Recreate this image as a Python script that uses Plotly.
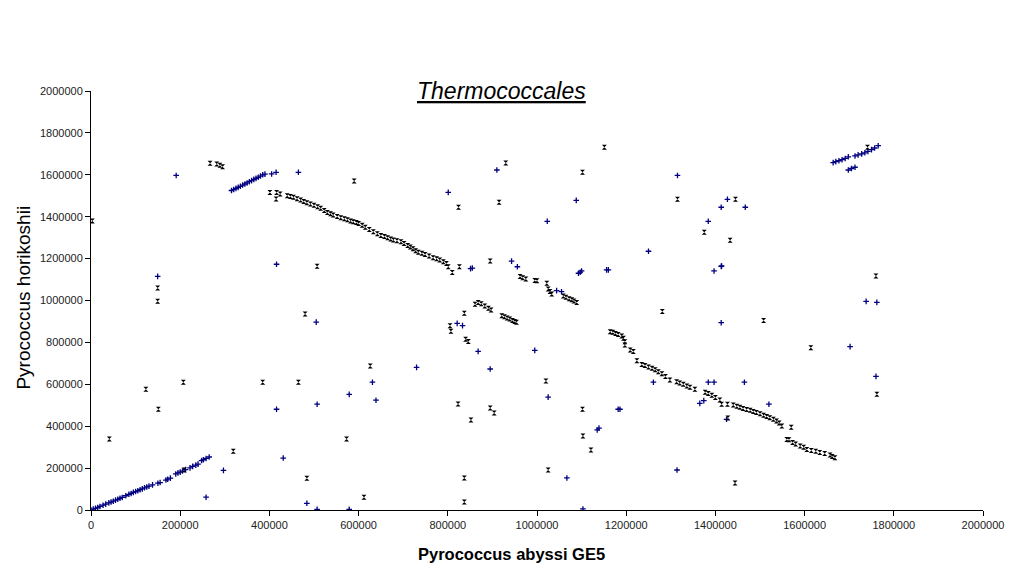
import plotly.graph_objects as go

# positions in kb (x: P. abyssi GE5, y: P. horikoshii)
blue_x = [0, 5, 10, 15, 20, 27, 33, 40, 45, 50, 55, 60, 65, 70, 78, 85, 90, 95, 100, 105,
          110, 115, 120, 125, 130, 138, 150, 155, 168, 172, 178, 190, 195, 200, 205, 212,
          222, 228, 235, 240, 248, 252, 258, 265,
          315, 320, 325, 330, 335, 340, 345, 350, 355, 360, 365, 370, 375, 380, 385, 390,
          1664, 1670, 1677, 1684, 1691, 1698, 1713, 1720, 1728, 1735, 1742, 1750, 1757, 1765,
          1698, 1705, 1713, 1093, 1097, 1100, 1044, 1055, 851, 855, 943, 956,
          191, 149.5, 405, 415, 416, 465, 801, 1023, 1088, 1315, 1427, 1413, 1467, 1384,
          1250, 1413, 1397, 1414, 1156, 1160, 821, 833, 868, 995, 730, 895, 1365, 1374,
          1384, 1397, 1465, 1520, 1261, 1182, 1186, 1425, 1413, 1738, 1762, 1702, 1760,
          297, 258, 416, 431, 507, 484, 507, 579, 579, 631, 639, 505, 1025, 1067, 1103,
          1135, 1139, 1314, 910]
blue_y = [0, 4, 8, 12, 17, 23, 28, 34, 38, 42, 47, 51, 56, 60, 68, 75, 79, 84, 88, 92,
          97, 101, 106, 110, 114, 120, 128, 131, 143, 147, 152, 172, 177, 181, 186, 193,
          201, 208, 214, 219, 236, 240, 246, 253,
          1525, 1530, 1535, 1540, 1545, 1551, 1556, 1561, 1567, 1572, 1578, 1583, 1588, 1594, 1600, 1603,
          1658, 1663, 1667, 1672, 1678, 1686, 1690, 1695, 1700, 1705, 1712, 1720, 1728, 1739,
          1623, 1630, 1636, 1130, 1135, 1141, 1047, 1042, 1152, 1155, 1188, 1161,
          1597, 1115, 1604, 1612, 1173, 1612, 1516, 1378, 1478, 1597, 1483, 1445, 1445, 1378,
          1235, 1163, 1141, 1165, 1146, 1146, 891, 880, 757, 762, 681, 673, 509, 522,
          610, 610, 610, 505, 610, 481, 481, 433, 894, 996, 991, 780, 638,
          189, 61, 481, 248, 505, 32, 3, 552, 3, 610, 524, 897, 539, 153, 5,
          382, 391, 191, 1623]

black_x = [440, 447, 454, 462, 470, 477, 484, 492, 500, 508, 515, 523, 530, 537, 543, 552,
           560, 568, 575, 582, 588, 595, 600, 608, 615, 624, 633, 642, 650, 658, 665, 672,
           678, 686, 695, 702, 710, 716, 722, 728, 734, 742, 749, 758, 767, 775, 782, 790,
           797, 801, 810, 826,
           861, 868, 875, 883, 891, 897, 921, 927, 933, 939, 945, 950, 954,
           962, 968, 975, 995, 1000, 1022, 1025, 1029, 1033, 1059, 1065, 1072, 1078, 1083, 1089,
           1164, 1170, 1176, 1182, 1190, 1194, 1197, 1197, 1209, 1216, 1224, 1235, 1242, 1250,
           1258, 1265, 1272, 1280, 1288, 1298, 1313, 1320, 1328, 1336, 1343, 1354, 1377, 1384,
           1392, 1400, 1410, 1414, 1427, 1440, 1448, 1455, 1462, 1470, 1478, 1485, 1492, 1500,
           1508, 1515, 1522, 1530, 1537, 1543, 1549, 1570,
           1560, 1565, 1573, 1580, 1590, 1598, 1605, 1615, 1625, 1634, 1645, 1657, 1662, 1668,
           3, 267, 282, 289, 295, 401, 416, 424, 415, 590, 507, 824, 915, 1102, 1151,
           1315, 1445, 1375, 1433, 1281, 1508, 1614, 1760, 1762, 1741, 895, 805, 807, 837,
           840, 846, 41, 123, 151, 207, 319, 209, 385, 465, 484, 573, 612, 626, 149.5, 149.5,
           480, 823, 852, 837, 837, 895, 904, 1020, 1025, 1103, 1102, 1121, 1428, 1444, 930]
black_y = [1500, 1497, 1493, 1486, 1480, 1473, 1467, 1461, 1455, 1447, 1440, 1430, 1420, 1414, 1408, 1401,
           1395, 1390, 1385, 1380, 1376, 1372, 1368, 1359, 1350, 1339, 1328, 1319, 1310, 1305, 1300, 1294,
           1289, 1285, 1281, 1272, 1262, 1255, 1247, 1238, 1230, 1225, 1220, 1212, 1204, 1199, 1193, 1185,
           1177, 1161, 1134, 1161,
           982, 991, 985, 974, 963, 955, 927, 922, 917, 912, 905, 900, 896,
           1114, 1108, 1103, 1096, 1094, 1082, 1055, 1043, 1031, 1021, 1015, 1008, 1003, 998, 991,
           851, 848, 843, 838, 830, 820, 803, 788, 764, 756, 713, 695, 690, 683,
           677, 670, 660, 650, 637, 620, 612, 606, 600, 592, 586, 576, 562, 556,
           548, 537, 525, 505, 505, 501, 495, 490, 485, 480, 476, 470, 465, 459,
           452, 446, 440, 433, 425, 415, 401, 395,
           337, 335, 322, 315, 306, 300, 289, 284, 280, 275, 270, 262, 255, 250,
           1380, 1655, 1652, 1645, 1639, 1516, 1515, 1508, 1484, 1570, 1163, 1445, 1469, 1612, 1731,
           1483, 1483, 1326, 1287, 947, 904, 775, 1117, 552, 1731, 1188, 880, 853, 939,
           815, 804, 339, 576, 481, 610, 280, 191, 610, 610, 151, 339, 61, 687, 1060, 997,
           935, 506, 430, 153, 38, 487, 463, 616, 191, 353, 481, 286, 439, 129, 1656]

x_ticks = [0, 200000, 400000, 600000, 800000, 1000000, 1200000, 1400000, 1600000, 1800000, 2000000]

fig = go.Figure()
fig.add_trace(go.Scatter(
    x=[v * 1000 for v in blue_x], y=[v * 1000 for v in blue_y], mode="markers",
    marker=dict(symbol="cross-thin", size=4, line=dict(color="#000080", width=1.3)),
    showlegend=False))
fig.add_trace(go.Scatter(
    x=[v * 1000 for v in black_x], y=[v * 1000 for v in black_y], mode="markers",
    marker=dict(symbol="hourglass", size=5, color="black"),
    showlegend=False))

axis_style = dict(range=[0, 2000000], tickvals=x_ticks, tickformat="d",
                  showgrid=False, zeroline=False, showline=True, linecolor="black",
                  linewidth=1, ticks="outside", ticklen=5, tickcolor="black",
                  tickfont=dict(family="Arial, Liberation Sans", size=11, color="#222"))
fig.update_xaxes(**axis_style)
fig.update_yaxes(**axis_style)

fig.add_annotation(text="<i><u>Thermococcales</u></i>", xref="paper", yref="paper",
                   x=0.46, y=1.0, xanchor="center", yanchor="middle", showarrow=False,
                   font=dict(family="Arial, Liberation Sans", size=23, color="black"))
fig.add_annotation(text="Pyrococcus horikoshii", xref="paper", yref="paper",
                   x=-0.0757, y=0.508, xanchor="center", yanchor="middle",
                   textangle=-90, showarrow=False,
                   font=dict(family="Arial, Liberation Sans", size=19, color="black"))
fig.add_annotation(text="<b>Pyrococcus abyssi GE5</b>", xref="paper", yref="paper",
                   x=0.471, y=-0.105, xanchor="center", yanchor="middle", showarrow=False,
                   font=dict(family="Arial, Liberation Sans", size=16.5, color="black"))

# the page body has an 8px margin, so the figure is 8px smaller and shifted
fig.update_layout(width=1012, height=568, plot_bgcolor="white", paper_bgcolor="white",
                  margin=dict(l=83, r=37, t=83, b=66))
fig.write_html("out.html")
